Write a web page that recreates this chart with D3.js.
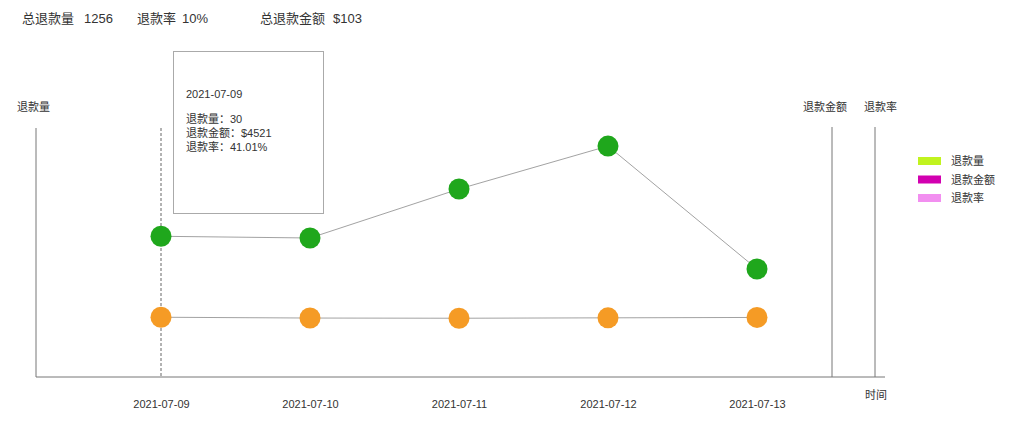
<!DOCTYPE html>
<html><head><meta charset="utf-8">
<script src="https://cdn.jsdelivr.net/npm/d3@7"></script>
<style>
html,body{margin:0;padding:0;background:#fff;}
svg{display:block;font-family:"Liberation Sans","Noto Sans CJK SC",Arial,sans-serif;}
</style></head>
<body>
<svg id="chart" width="1011" height="435"></svg>
<script>
// ---- data ----
const dates = ["2021-07-09","2021-07-10","2021-07-11","2021-07-12","2021-07-13"];
const amountValues = [4521, 4466, 6040, 7420, 3470];   // green series
const countValues = [30, 29.6, 29.5, 29.7, 29.9];      // orange series
const summaryLabels = ["总退款量","退款率","总退款金额"];
const summaryValues = ["1256","10%","$103"];
const legendLabels = ["退款量","退款金额","退款率"];
const legendColors = ["#c1f31f","#d200b0","#f28ff0"];
const tooltipLines = ["2021-07-09","","退款量：30","退款金额：$4521","退款率：41.01%"];

(function(){
const svg = d3.select("#chart");
const pLeft = 36, pRight = 832, pRight2 = 875, pTop = 128, pBottom = 377;

const x = d3.scalePoint().domain(dates).range([161, 757]);
const yAmount = d3.scaleLinear().domain([0, 8000]).range([pBottom, pTop]);
const yCount = d3.scaleLinear().domain([0, 125]).range([pBottom, pTop]);

// header summary
const hx = [22, 137, 260], vx = [84, 182, 333];
summaryLabels.forEach((t,i)=>{
  svg.append("text").attr("x",hx[i]).attr("y",23).attr("font-size",13).attr("fill","#333").text(t);
  svg.append("text").attr("x",vx[i]).attr("y",23).attr("font-size",13).attr("fill","#333").text(summaryValues[i]);
});

// axes
const axisColor = "#777";
svg.append("line").attr("x1",pLeft).attr("x2",pLeft).attr("y1",pTop).attr("y2",pBottom).attr("stroke",axisColor);
svg.append("line").attr("x1",pRight).attr("x2",pRight).attr("y1",pTop-1).attr("y2",pBottom).attr("stroke",axisColor);
svg.append("line").attr("x1",pRight2).attr("x2",pRight2).attr("y1",pTop-1).attr("y2",pBottom).attr("stroke",axisColor);
svg.append("line").attr("x1",pLeft).attr("x2",pRight2+10).attr("y1",pBottom).attr("y2",pBottom).attr("stroke",axisColor);

const xAxis = d3.axisBottom(x).tickSize(0).tickPadding(23);
const gx = svg.append("g").attr("transform",`translate(0,${pBottom})`).call(xAxis);
gx.select(".domain").remove();
gx.selectAll("text").attr("font-size",11).attr("fill","#333").attr("font-family","Liberation Sans, Arial, sans-serif");

// axis titles
svg.append("text").attr("x",17).attr("y",111).attr("font-size",11).attr("fill","#333").text("退款量");
svg.append("text").attr("x",803).attr("y",111).attr("font-size",11).attr("fill","#333").text("退款金额");
svg.append("text").attr("x",864).attr("y",111).attr("font-size",11).attr("fill","#333").text("退款率");
svg.append("text").attr("x",865).attr("y",399).attr("font-size",11).attr("fill","#333").text("时间");

// dashed hover line
svg.append("line").attr("x1",x(dates[0])).attr("x2",x(dates[0])).attr("y1",pTop).attr("y2",pBottom)
  .attr("stroke","#666").attr("stroke-dasharray","3,2");

// lines
const lineAmount = d3.line().x((d,i)=>x(dates[i])).y(d=>yAmount(d));
const lineCount = d3.line().x((d,i)=>x(dates[i])).y(d=>yCount(d));
svg.append("path").attr("d",lineAmount(amountValues)).attr("fill","none").attr("stroke","#8a8a8a").attr("stroke-width",0.8);
svg.append("path").attr("d",lineCount(countValues)).attr("fill","none").attr("stroke","#8a8a8a").attr("stroke-width",0.8);

// dots
svg.selectAll(".dotA").data(amountValues).join("circle").attr("class","dotA")
  .attr("cx",(d,i)=>x(dates[i])).attr("cy",d=>yAmount(d)).attr("r",10.5).attr("fill","#1fa71c");
svg.selectAll(".dotC").data(countValues).join("circle").attr("class","dotC")
  .attr("cx",(d,i)=>x(dates[i])).attr("cy",d=>yCount(d)).attr("r",10.5).attr("fill","#f59b25");

// legend
legendLabels.forEach((t,i)=>{
  svg.append("rect").attr("x",918).attr("y",157+i*18.5).attr("width",23).attr("height",8).attr("fill",legendColors[i]);
  svg.append("text").attr("x",951).attr("y",165+i*18.5).attr("font-size",11).attr("fill","#333").text(t);
});

// tooltip
svg.append("rect").attr("x",173.5).attr("y",51.5).attr("width",150).attr("height",162)
  .attr("fill","#fff").attr("stroke","#aaa");
const tyy = [98, 0, 123, 137, 151];
tooltipLines.forEach((t,i)=>{
  if(!t) return;
  svg.append("text").attr("x",186).attr("y",tyy[i]).attr("font-size",11).attr("fill","#333").text(t);
});
})();
</script>
</body></html>
